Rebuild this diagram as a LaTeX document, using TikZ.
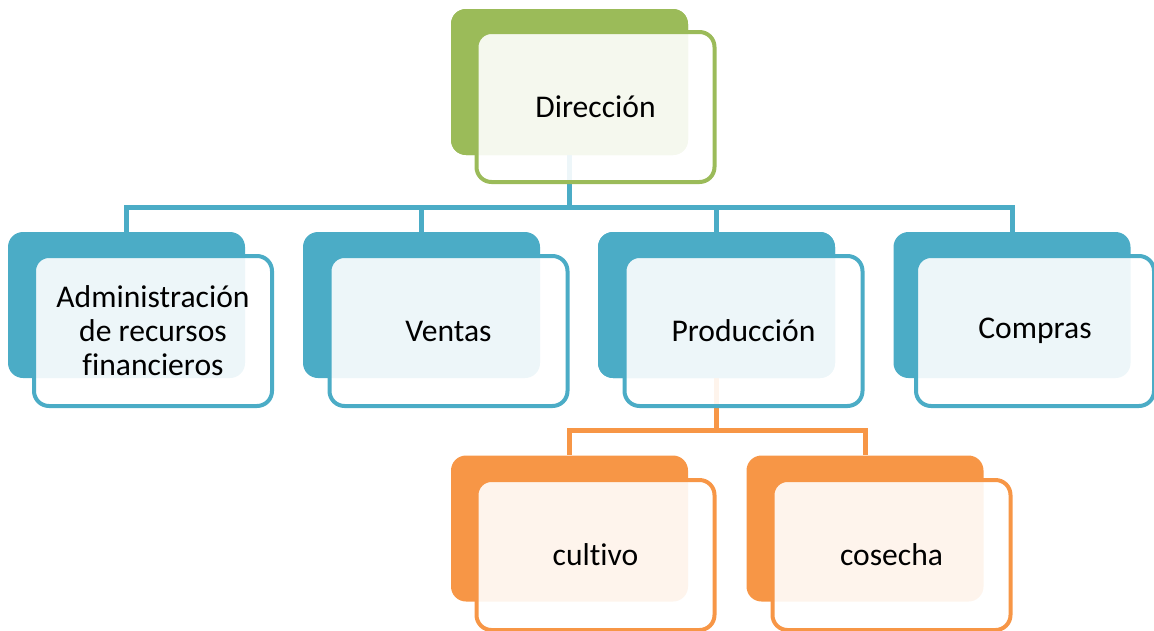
\documentclass[tikz,border=0pt]{standalone}
\usepackage{fontspec}
\setmainfont[Ligatures=NoCommon]{Carlito}
\definecolor{cgreen}{HTML}{9BBB59}
\definecolor{cblue}{HTML}{4BACC6}
\definecolor{corange}{HTML}{F79646}
\begin{document}
\begin{tikzpicture}[x=1pt,y=-1pt,
  backbox/.style={fill=#1,draw=none,rounded corners=15pt,minimum width=237pt,minimum height=146pt,inner sep=0pt},
  frontbox/.style={draw=#1,line width=4pt,fill=white,fill opacity=0.9,text opacity=1,rounded corners=15pt,minimum width=238pt,minimum height=150pt,inner sep=0pt,align=center,font=\fontsize{31.6}{34}\selectfont},
  conn/.style={draw=#1,line width=5pt}]
\useasboundingbox (0,0) rectangle (1154,630);
\coordinate (bus1) at (0,207);
\coordinate (bus2) at (0,430);
% back boxes
\node[backbox=cgreen] (db) at (569.5,82) {};
\node[backbox=cblue] (ab) at (126.5,305) {};
\node[backbox=cblue] (vb) at (421.5,305) {};
\node[backbox=cblue] (pb) at (716.5,305) {};
\node[backbox=cblue] (cb) at (1012,305) {};
\node[backbox=corange] (ub) at (569.5,528.5) {};
\node[backbox=corange] (sb) at (865,528.5) {};
% connectors
\foreach \c in {ab,vb,pb,cb}{
  \draw[conn=cblue] (db.south) -- (db.south |- bus1) -| (\c.north);
}
\foreach \c in {ub,sb}{
  \draw[conn=corange] (pb.south) -- (pb.south |- bus2) -| (\c.north);
}
% redraw back boxes over connector starts
\node[backbox=cgreen] at (db) {};
\node[backbox=cblue] at (pb) {};
% front boxes
\node[frontbox=cgreen] (d) at (595.5,107) {Dirección};
\node[frontbox=cblue] (a) at (153,331) {Administración\\de recursos\\financieros};
\node[frontbox=cblue] (v) at (448.5,331) {Ventas};
\node[frontbox=cblue] (p) at (743.5,331) {Producción};
\node[frontbox=cblue] (c) at (1035,331) {Compras};
\node[frontbox=corange] (u) at (595.5,555) {cultivo};
\node[frontbox=corange] (s) at (891.5,555) {cosecha};
\end{tikzpicture}
\end{document}
